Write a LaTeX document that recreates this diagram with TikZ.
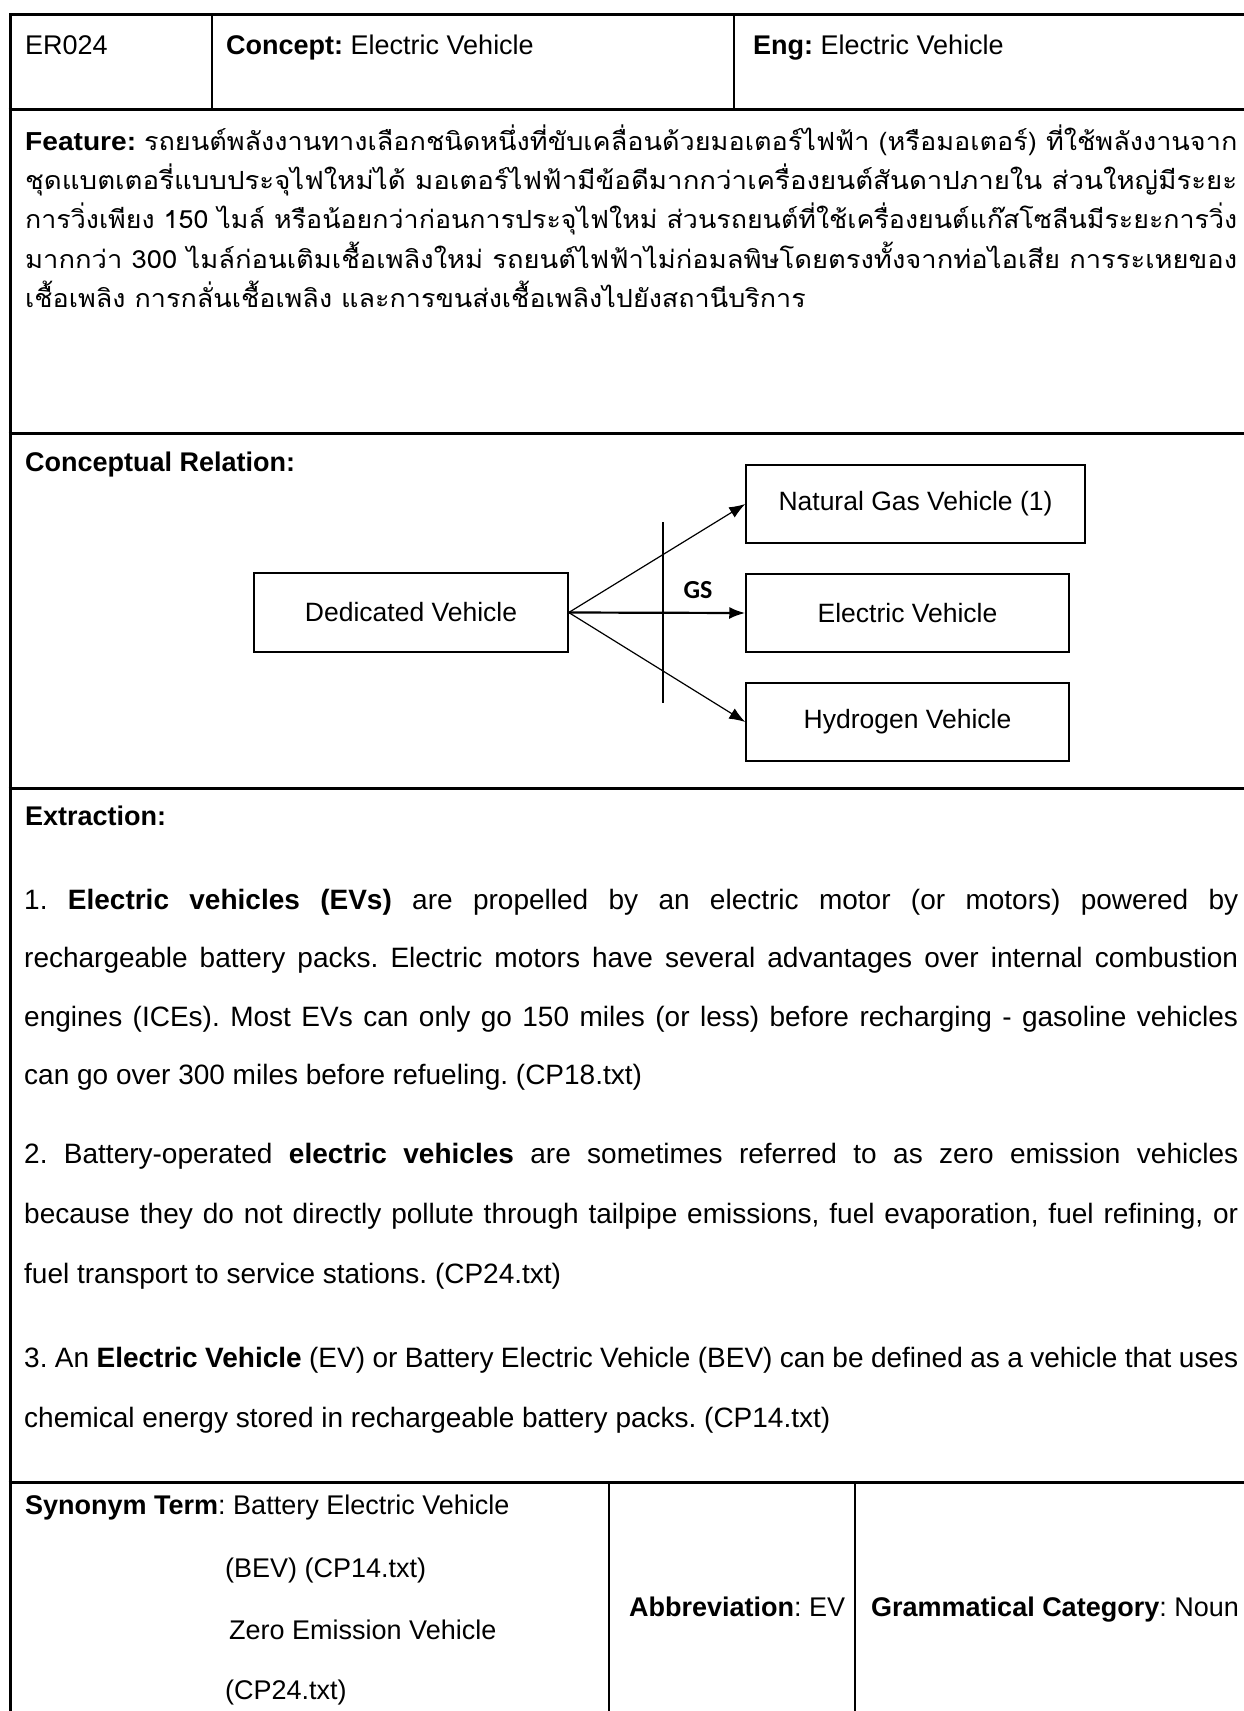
\documentclass[tikz,border=0pt]{standalone}
\usepackage{fontspec}
\usepackage{graphicx}
\setmainfont{Liberation Sans}
\newfontfamily\thaifont[Script=Thai]{Loma}
\newfontfamily\gsfont{Carlito}
\usetikzlibrary{arrows.meta,shadows}
\frenchspacing

% one Thai line, stretched sideways to the full text width
\newcommand\fullline[1]{\resizebox{1212pt}{\height}{#1}}

\begin{document}
\begin{tikzpicture}[x=1pt,y=-1pt,
  txt/.style={anchor=base west, inner sep=0pt, font=\fontsize{27}{30}\selectfont},
  body/.style={anchor=base west, inner sep=0pt, font=\fontsize{28}{30}\selectfont},
  thai/.style={anchor=base west, inner sep=0pt, font=\fontsize{25}{30}\selectfont},
  rule/.style={line width=3pt},
  inner rule/.style={line width=1.5pt},
  cbox/.style={draw, fill=white, line width=1.5pt, inner sep=0pt,
    drop shadow={shadow xshift=1pt, shadow yshift=-1pt, opacity=1, fill=black},
    font=\fontsize{26.5}{30}\selectfont},
  link/.style={line width=1.2pt, -{Latex[length=16pt,width=12pt]}},
]
\useasboundingbox (0,0) rectangle (1244,1711);
\fill[white] (0,0) rectangle (1244,1711);

% table frame
\draw[rule] (10,1711) -- (10,14) -- (1244,14);
\foreach \yy in {109,433,788,1482} \draw[rule] (8.5,\yy) -- (1244,\yy);
\draw[inner rule] (212,14) -- (212,109);
\draw[inner rule] (734,14) -- (734,109);
\draw[inner rule] (609,1482) -- (609,1711);
\draw[inner rule] (855,1482) -- (855,1711);

% heading row
\node[txt] (id) at (25,54) {ER024};
\node[txt] (concept) at (226,54) {\textbf{Concept:} Electric Vehicle};
\node[txt] (eng) at (753,54) {\textbf{Eng:} Electric Vehicle};

% feature
\node[thai] (f1) at (25,150) {\fullline{\fontsize{26}{30}\selectfont\textbf{Feature:} \thaifont\fontsize{25}{30}\selectfont รถยนต์พลังงานทางเลือกชนิดหนึ่งที่ขับเคลื่อนด้วยมอเตอร์ไฟฟ้า (หรือมอเตอร์) ที่ใช้พลังงานจาก}};
\node[thai] (f2) at (25,189) {\fullline{\thaifont ชุดแบตเตอรี่แบบประจุไฟใหม่ได้ มอเตอร์ไฟฟ้ามีข้อดีมากกว่าเครื่องยนต์สันดาปภายใน ส่วนใหญ่มีระยะ}};
\node[thai] (f3) at (25,228) {\fullline{\thaifont การวิ่งเพียง 150 ไมล์ หรือน้อยกว่าก่อนการประจุไฟใหม่ ส่วนรถยนต์ที่ใช้เครื่องยนต์แก๊สโซลีนมีระยะการวิ่ง}};
\node[thai] (f4) at (25,268) {\fullline{\thaifont มากกว่า 300 ไมล์ก่อนเติมเชื้อเพลิงใหม่ รถยนต์ไฟฟ้าไม่ก่อมลพิษโดยตรงทั้งจากท่อไอเสีย การระเหยของ}};
\node[thai] (f5) at (25,307) {\scalebox{1.078}[1]{\thaifont เชื้อเพลิง การกลั่นเชื้อเพลิง และการขนส่งเชื้อเพลิงไปยังสถานีบริการ}};

% conceptual relation
\node[txt] (crel) at (25,471) {\textbf{Conceptual Relation:}};
\node[cbox, minimum width=314pt, minimum height=79pt] (dv) at (411,612.5) {Dedicated Vehicle};
\node[cbox, minimum width=339pt, minimum height=78pt] (ngv) at (915.5,504) {Natural Gas Vehicle (1)};
\node[cbox, minimum width=323pt, minimum height=78pt] (ev) at (907.5,613) {Electric Vehicle};
\node[cbox, minimum width=323pt, minimum height=78pt] (hv) at (907.5,722) {Hydrogen Vehicle};
\coordinate (cut top) at (663,522);
\coordinate (cut bottom) at (663,703);
\draw[line width=1.5pt] (cut top) -- (cut bottom);
\draw[link] (dv.east) -- (ngv.west);
\draw[link, line width=2.2pt] (dv.east) -- (ev.west);
\draw[link] (dv.east) -- (hv.west);
\node[inner sep=0pt, font=\gsfont\bfseries\fontsize{26}{30}\selectfont] (gs) at (698,590) {GS};

% extraction
\node[txt] (ext) at (25,825) {\textbf{Extraction:}};
\node[body] (e11) at (24,909) {\makebox[1214pt][s]{1. \textbf{Electric vehicles (EVs)} are propelled by an electric motor (or motors) powered by}};
\node[body] (e12) at (24,967) {\makebox[1214pt][s]{rechargeable battery packs. Electric motors have several advantages over internal combustion}};
\node[body] (e13) at (24,1026) {\makebox[1214pt][s]{engines (ICEs). Most EVs can only go 150 miles (or less) before recharging - gasoline vehicles}};
\node[body] (e14) at (24,1084) {can go over 300 miles before refueling. (CP18.txt)};
\node[body] (e21) at (24,1163) {\makebox[1214pt][s]{2. Battery-operated \textbf{electric vehicles} are sometimes referred to as zero emission vehicles}};
\node[body] (e22) at (24,1223) {\makebox[1214pt][s]{because they do not directly pollute through tailpipe emissions, fuel evaporation, fuel refining, or}};
\node[body] (e23) at (24,1283) {fuel transport to service stations. (CP24.txt)};
\node[body] (e31) at (24,1367) {\makebox[1214pt][s]{3. An \textbf{Electric Vehicle} (EV) or Battery Electric Vehicle (BEV) can be defined as a vehicle that uses}};
\node[body] (e32) at (24,1427) {chemical energy stored in rechargeable battery packs. (CP14.txt)};

% last row
\node[txt] (syn1) at (25,1514) {\textbf{Synonym Term}: Battery Electric Vehicle};
\node[txt] (syn2) at (225,1577) {(BEV) (CP14.txt)};
\node[txt] (syn3) at (229,1639) {Zero Emission Vehicle};
\node[txt] (syn4) at (225,1699) {(CP24.txt)};
\node[txt] (abbr) at (629,1616) {\textbf{Abbreviation}: EV};
\node[txt] (cat) at (871,1616) {\textbf{Grammatical Category}: Noun};
\end{tikzpicture}
\end{document}
